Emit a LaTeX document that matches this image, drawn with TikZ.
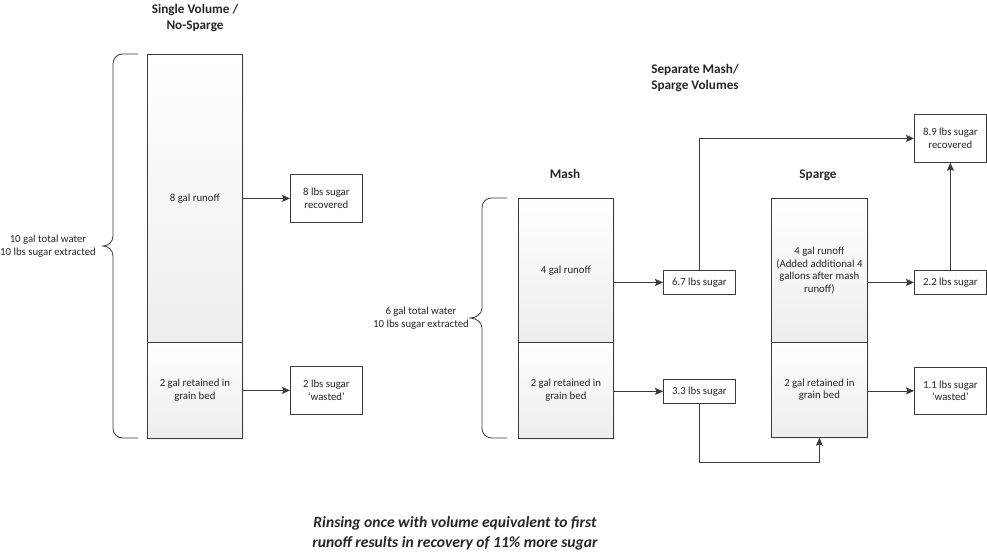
\documentclass[tikz,border=0pt]{standalone}
\usepackage{fontspec}
\setmainfont{Carlito}
\usetikzlibrary{arrows.meta,shadows}
\definecolor{linec}{HTML}{3A3A3A}
\tikzset{
  body/.style={font=\fontsize{10.8}{12.5}\selectfont, text=black!85},
  title/.style={font=\fontsize{13.2}{16}\selectfont\bfseries, align=center, text=black!85},
  volbox/.style={draw=linec, line width=0.8pt, top color=white, bottom color=black!7,
     drop shadow={shadow xshift=1.5pt, shadow yshift=-1.5pt, fill=black!10},
     body, align=center, anchor=north west, inner sep=2pt},
  resbox/.style={draw=linec, line width=0.8pt, fill=white, body, align=center,
     anchor=north west, inner sep=2pt, minimum width=72pt},
  arr/.style={draw=linec, line width=0.8pt, -{Stealth[length=8pt,width=7pt,inset=1.5pt]}},
  bracec/.style={draw=linec, line width=0.8pt},
}
\begin{document}
\begin{tikzpicture}[x=1pt,y=-1pt]
\useasboundingbox (0,0) rectangle (987,554);

% ---- Single volume ----
\node[title] (t1) at (195,18) {Single Volume /\\No-Sparge};
\node[volbox, minimum width=95pt, minimum height=288pt] (nr) at (147,54) {8 gal runoff};
\node[volbox, minimum width=95pt, minimum height=96pt] (nb) at (147,342) {2 gal retained in\\grain bed};
\node[resbox, minimum height=48pt] (rec1) at (290,174) {8 lbs sugar\\recovered};
\node[resbox, minimum height=48pt] (was1) at (290,366) {2 lbs sugar\\‘wasted’};
\draw[arr] (nr.east) -- (rec1.west);
\draw[arr] (nb.east) -- (was1.west);
\draw[bracec] (138,54) -- (123,54) .. controls (117,54) and (113,58) .. (113,64)
  -- (113,236) .. controls (113,242) and (108,246) .. (103,246)
  .. controls (108,246) and (113,250) .. (113,256)
  -- (113,428) .. controls (113,434) and (117,438) .. (123,438) -- (138,438);
\node[body, align=center] (l1) at (48,246) {10 gal total water\\10 lbs sugar extracted};

% ---- Separate mash / sparge ----
\node[title] (t2) at (695,78) {Separate Mash/\\Sparge Volumes};
\node[title] (tm) at (565,174) {Mash};
\node[title] (ts) at (818,175) {Sparge};

\node[volbox, minimum width=95pt, minimum height=144pt] (mtop) at (518,198) {4 gal runoff};
\node[volbox, minimum width=95pt, minimum height=96pt] (mbot) at (518,342) {2 gal retained in\\grain bed};
\node[volbox, minimum width=96pt, minimum height=144pt] (stop) at (771,198) {4 gal runoff\\(Added additional 4\\gallons after mash\\runoff)};
\node[volbox, minimum width=96pt, minimum height=95pt] (sbot) at (771,342) {2 gal retained in\\grain bed};

\node[resbox, minimum height=24pt] (b67) at (663,270) {6.7 lbs sugar};
\node[resbox, minimum height=24pt] (b33) at (663,379) {3.3 lbs sugar};
\node[resbox, minimum height=24pt] (b22) at (914,270) {2.2 lbs sugar};
\node[resbox, minimum height=48pt] (b89) at (914,114) {8.9 lbs sugar\\recovered};
\node[resbox, minimum height=47pt] (b11) at (914,367) {1.1 lbs sugar\\‘wasted’};

\draw[arr] (mtop.east |- b67.west) -- (b67.west);
\draw[arr] (mbot.east |- b33.west) -- (b33.west);
\draw[arr] (stop.east |- b22.west) -- (b22.west);
\draw[arr] (sbot.east |- b11.west) -- (b11.west);
\draw[arr] (b67.north) |- (b89.west);
\draw[arr] (b22.north) -- (b89.south);
\coordinate (lowy) at (0,462);
\draw[arr] (b33.south) -- (b33.south |- lowy) -| (sbot.south);

\draw[bracec] (507,198) -- (492,198) .. controls (486,198) and (482,202) .. (482,208)
  -- (482,308) .. controls (482,314) and (476,318) .. (470,318)
  .. controls (476,318) and (482,322) .. (482,328)
  -- (482,428) .. controls (482,434) and (486,438) .. (492,438) -- (507,438);
\node[body, align=center] (l2) at (421,318) {6 gal total water\\10 lbs sugar extracted};

% ---- note ----
\node[font=\fontsize{15.6}{20}\selectfont\bfseries\itshape, align=center, text=black!85] (note) at (455,533)
  {Rinsing once with volume equivalent to first\\runoff results in recovery of 11\% more sugar};
\end{tikzpicture}
\end{document}
